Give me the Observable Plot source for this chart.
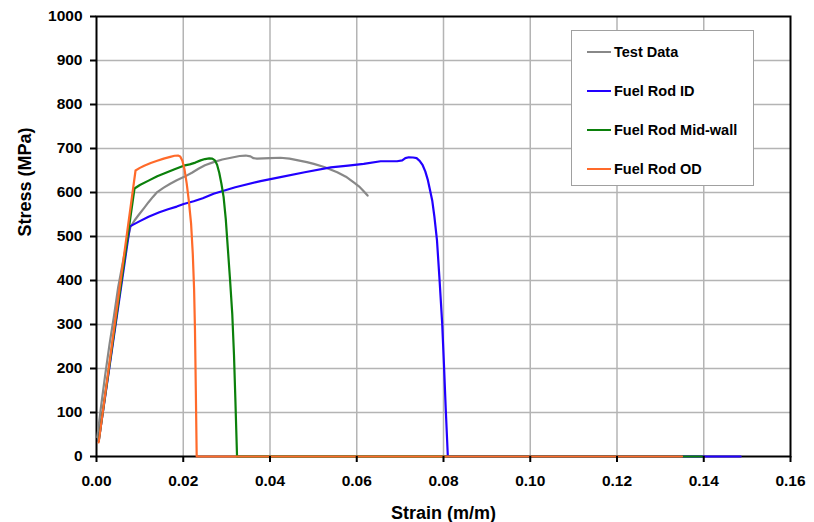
<!DOCTYPE html>
<html>
<head>
<meta charset="utf-8">
<script src="https://cdn.jsdelivr.net/npm/d3@7"></script>
<script src="https://cdn.jsdelivr.net/npm/@observablehq/plot@0.6"></script>
<style>
  html, body { margin: 0; padding: 0; background: #fff; }
  #wrap { position: relative; width: 814px; height: 522px; font-family: "Liberation Sans", Arial, sans-serif; }
  #legend { position: absolute; left: 571px; top: 30px; width: 183px; height: 156px; border: 1.5px solid #a0a0a0; background: #fff; box-sizing: border-box; }
  .row { position: absolute; left: 15px; height: 20px; display: flex; align-items: center; font-weight: bold; font-size: 14.5px; color: #000; }
  .row span.sw { display: inline-block; width: 24px; height: 2.5px; margin-right: 3px; }
</style>
</head>
<body>
<div id="wrap"></div>
<script>
// ---- data ----
const seriesNames = ["Test Data", "Fuel Rod ID", "Fuel Rod Mid-wall", "Fuel Rod OD"];
const seriesColors = ["#888888", "#2200ff", "#0b800b", "#ff6a2a"];

const testStrain = [0.0002, 0.001, 0.002, 0.003, 0.004, 0.005, 0.0063, 0.0071, 0.0078, 0.0088, 0.0098, 0.011, 0.012, 0.013, 0.014, 0.0155, 0.017, 0.0185, 0.0201, 0.022, 0.0235, 0.025, 0.027, 0.029, 0.031, 0.033, 0.0344, 0.0355, 0.0362, 0.037, 0.040, 0.0424, 0.0445, 0.0465, 0.0485, 0.0501, 0.0525, 0.0555, 0.0575, 0.0593, 0.0605, 0.0615, 0.0625];
const testStress = [44, 110, 185, 255, 317, 385, 453, 490, 521, 537, 550, 565, 578, 590, 601, 611, 620, 628, 635, 645, 654, 662, 669, 675, 679, 683, 684, 682, 678, 677, 678, 679, 677, 673, 669, 665, 658, 646, 636, 623, 614, 604, 593];

const idStrain = [0.0005, 0.0077, 0.010, 0.012, 0.0145, 0.0165, 0.0185, 0.0201, 0.0224, 0.0245, 0.027, 0.032, 0.0378, 0.0424, 0.048, 0.054, 0.058, 0.0616, 0.0655, 0.0693, 0.0705, 0.0712, 0.072, 0.073, 0.0738, 0.0745, 0.0752, 0.0758, 0.0764, 0.0769, 0.0774, 0.0779, 0.0785, 0.0791, 0.0797, 0.0801, 0.0805, 0.081, 0.1485];
const idStress = [35, 523, 535, 545, 555, 562, 568, 574, 580, 587, 597, 612, 626, 635, 646, 657, 661, 665, 671, 671, 673, 678, 680, 679.5, 678, 672, 662, 648, 628, 605, 582, 545, 491, 400, 302, 210, 112, 0, 0];

const midStrain = [0.0005, 0.00876, 0.010, 0.012, 0.014, 0.016, 0.018, 0.0201, 0.0215, 0.0228, 0.024, 0.025, 0.026, 0.0267, 0.0273, 0.0278, 0.0283, 0.0288, 0.0293, 0.0298, 0.0303, 0.0308, 0.0313, 0.0317, 0.032, 0.0324, 0.1396];
const midStress = [35, 609, 617, 627, 637, 645, 653, 661, 664, 668, 673, 676, 677.5, 677, 673, 663, 645, 620, 590, 540, 470, 400, 324, 230, 135, 0, 0];

const odStrain = [0.0005, 0.009, 0.010, 0.011, 0.0125, 0.014, 0.0155, 0.017, 0.018, 0.0188, 0.0193, 0.0198, 0.0203, 0.0208, 0.0213, 0.0218, 0.0222, 0.0225, 0.0227, 0.0229, 0.0231, 0.135];
const odStress = [32, 650, 656, 661, 667, 672, 677, 681, 683.5, 684, 682, 672, 652, 620, 580, 530, 460, 380, 290, 150, 0, 0];

const xTicks = [0, 0.02, 0.04, 0.06, 0.08, 0.10, 0.12, 0.14, 0.16];
const yTicks = [0, 100, 200, 300, 400, 500, 600, 700, 800, 900, 1000];
const xGrid = [0.02, 0.04, 0.06, 0.08, 0.10, 0.12, 0.14];
const yGrid = [100, 200, 300, 400, 500, 600, 700, 800, 900];

// ---- build table ----
const rows = [];
[[testStrain, testStress], [idStrain, idStress], [midStrain, midStress], [odStrain, odStress]].forEach(([xs, ys], i) => {
  xs.forEach((x, j) => rows.push({series: seriesNames[i], strain: x, stress: ys[j]}));
});

const chart = Plot.plot({
  width: 814,
  height: 522,
  marginLeft: 96,
  marginRight: 24,
  marginTop: 16,
  marginBottom: 66,
  style: {fontFamily: "'Liberation Sans', Arial, sans-serif", fontWeight: "bold", fontSize: "15.5px", color: "#000", background: "#fff"},
  x: {domain: [0, 0.16]},
  y: {domain: [0, 1000]},
  color: {domain: seriesNames, range: seriesColors},
  marks: [
    Plot.gridX(xGrid, {stroke: "#b4b4b4", strokeOpacity: 1, strokeWidth: 1.5}),
    Plot.gridY(yGrid, {stroke: "#b4b4b4", strokeOpacity: 1, strokeWidth: 1.5}),
    Plot.frame({stroke: "#000", strokeWidth: 2}),
    Plot.line(rows, {x: "strain", y: "stress", z: "series", stroke: "series", strokeWidth: 2.2, strokeLinejoin: "round"}),
    Plot.axisX(xTicks, {tickSize: 6, tickPadding: 12, tickFormat: d3.format(".2f"), label: null, strokeWidth: 2}),
    Plot.axisY(yTicks, {tickSize: 6, tickPadding: 8, tickFormat: d3.format("d"), label: null, strokeWidth: 2}),
    Plot.text(["Strain (m/m)"], {frameAnchor: "bottom", dy: 57, fontSize: 18, fontWeight: "bold", lineAnchor: "middle"}),
    Plot.text(["Stress (MPa)"], {frameAnchor: "left", dx: -71, rotate: -90, fontSize: 18, fontWeight: "bold", lineAnchor: "middle"})
  ]
});

const wrap = document.getElementById("wrap");
wrap.appendChild(chart);

// legend
const legend = document.createElement("div");
legend.id = "legend";
const rowTops = [11, 50, 89, 128];
seriesNames.forEach((name, i) => {
  const r = document.createElement("div");
  r.className = "row";
  r.style.top = rowTops[i] + "px";
  const sw = document.createElement("span");
  sw.className = "sw";
  sw.style.background = seriesColors[i];
  r.appendChild(sw);
  r.appendChild(document.createTextNode(name));
  legend.appendChild(r);
});
wrap.appendChild(legend);
</script>
</body>
</html>
